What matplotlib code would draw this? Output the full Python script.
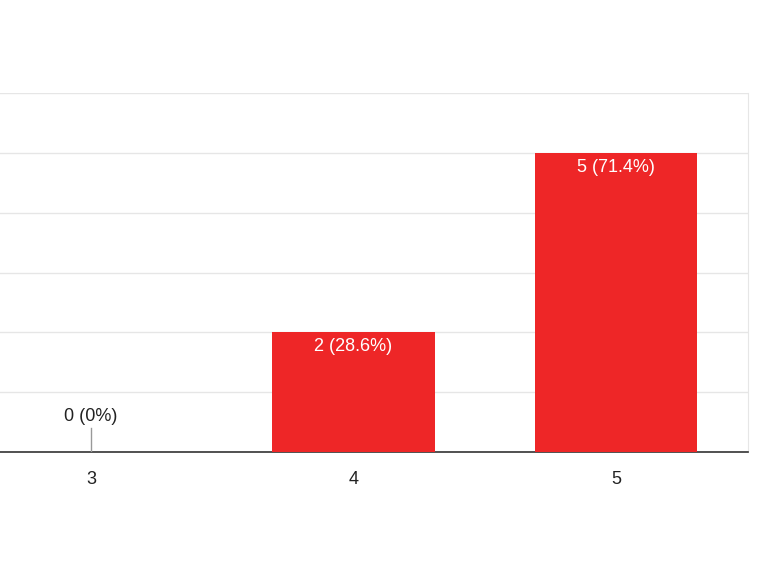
import matplotlib.pyplot as plt

categories = [1, 2, 3, 4, 5]
counts = [0, 0, 0, 2, 5]
percents = ["0%", "0%", "0%", "28.6%", "71.4%"]

plt.rcParams['font.family'] = ['Liberation Sans', 'DejaVu Sans']

fig = plt.figure(figsize=(7.58, 5.68), dpi=100)
ax = fig.add_axes([0, 1 - 452 / 568, 748 / 758, (452 - 93) / 568])

ax.bar(categories, counts, width=0.62, color='#ee2627', zorder=3)

for c, n, p in zip(categories, counts, percents):
    label = f"{n} ({p})"
    if n == 0:
        ax.plot([c, c], [0, 0.4], color='#999999', lw=1, zorder=3, clip_on=True)
        ax.text(c, 0.45, label, ha='center', va='bottom', fontsize=13, color='#222222', clip_on=True)
    else:
        ax.text(c, n - 0.1, label, ha='center', va='top', fontsize=13, color='white', zorder=4)

ax.set_yticks(range(0, 7))
ax.set_yticklabels([])
ax.tick_params(axis='y', length=0)
ax.tick_params(axis='x', length=0, labelsize=13, colors='#222222', pad=14)
ax.set_xticks(categories[2:])
ax.set_xlim(3 - 91 / 262.5, 3 + (748 - 91) / 262.5)
ax.set_ylim(0, 6)
ax.grid(axis='y', color='#e6e6e6', lw=1, zorder=0)
for s in ['left', 'top']:
    ax.spines[s].set_visible(False)
ax.spines['right'].set_color('#e6e6e6')
ax.spines['bottom'].set_color('#333333')
ax.spines['bottom'].set_linewidth(1.2)

fig.savefig('out.png', dpi=100)
